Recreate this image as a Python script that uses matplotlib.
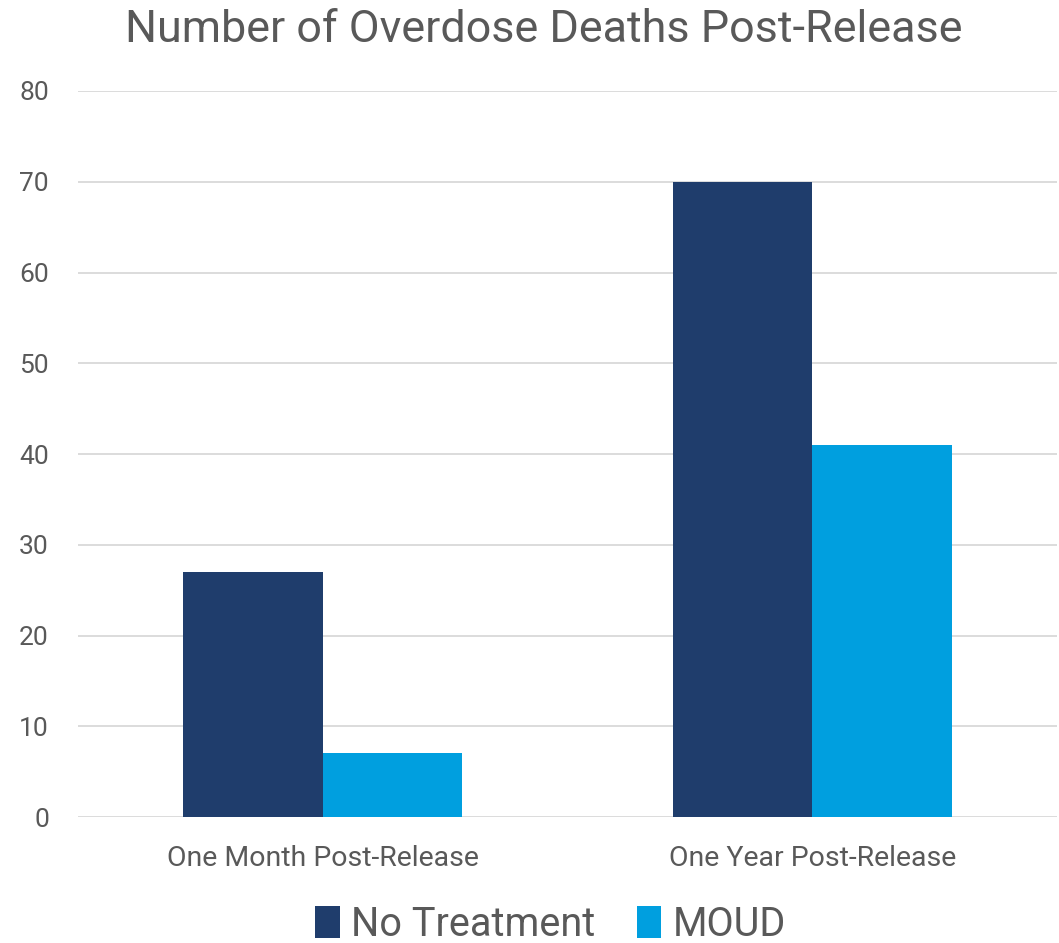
import numpy as np
import matplotlib.pyplot as plt
from matplotlib.patches import Patch

# Overdose death counts after release
categories = ['One Month Post-Release', 'One Year Post-Release']
no_treatment = [27, 70]
moud = [7, 41]
series_names = ['No Treatment', 'MOUD']
yticks = [0, 10, 20, 30, 40, 50, 60, 70, 80]

dark_blue = '#1F3D6C'
light_blue = '#009FDF'
text_grey = '#595959'
fam = ['Roboto', 'DejaVu Sans']

fig = plt.figure(figsize=(10.59, 9.43), dpi=100)
ax = fig.add_axes([0.0737, 0.1336, 0.9245, 0.7699])

x = np.arange(len(categories))
w = 0.285
ax.bar(x - w / 2, no_treatment, w, color=dark_blue, zorder=3)
ax.bar(x + w / 2, moud, w, color=light_blue, zorder=3)

ax.set_xlim(-0.5, 1.5)
ax.set_ylim(0, 80)
ax.set_yticks(yticks)
ax.set_yticklabels([str(t) for t in yticks], fontsize=19, color=text_grey, family=fam)
ax.set_xticks(x)
ax.set_xticklabels(categories, fontsize=20.5, color=text_grey, family=fam)
ax.tick_params(axis='both', length=0)
ax.tick_params(axis='y', pad=21)
ax.tick_params(axis='x', pad=20)

ax.grid(axis='y', color='#D9D9D9', linewidth=1.3, zorder=0)
for s in ax.spines.values():
    s.set_visible(False)

fig.text(0.513, 0.955, 'Number of Overdose Deaths Post-Release', ha='center', va='baseline',
         fontsize=32.3, color=text_grey, family=fam)

handles = [Patch(facecolor=dark_blue), Patch(facecolor=light_blue)]
leg = fig.legend(handles, series_names, loc='center', bbox_to_anchor=(0.52, 0.02),
                 ncol=2, frameon=False, prop={'family': fam, 'size': 28.5},
                 handlelength=0.62, handleheight=0.85, handletextpad=0.28, columnspacing=1.05,
                 borderpad=0)
for t in leg.get_texts():
    t.set_color(text_grey)

fig.savefig('out.png', dpi=100)
